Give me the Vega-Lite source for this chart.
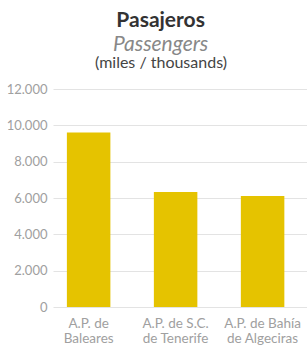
{
  "$schema": "https://vega.github.io/schema/vega-lite/v6.json",
  "padding": {"left": 6, "top": 10, "right": 0, "bottom": 0},
  "config": {"view": {"stroke": null}, "font": "Lato", "concat": {"spacing": 0}},
  "title": {
    "text": "Pasajeros",
    "subtitle": "Passengers",
    "anchor": "middle",
    "frame": "bounds",
    "dx": 4,
    "fontSize": 21,
    "fontWeight": "bold",
    "color": "#333333",
    "subtitleFontSize": 21,
    "subtitleFontStyle": "italic",
    "subtitleColor": "#888888",
    "subtitlePadding": 3,
    "offset": 0
  },
  "vconcat": [
    {
      "title": {"text": "(miles / thousands)", "fontSize": 16, "fontWeight": "normal", "color": "#444444", "anchor": "middle", "dx": -19, "offset": 12},
      "width": 254,
      "height": 218,
      "data": {
        "values": [
          {"puerto": "A.P. de|Baleares", "valor": 9610},
          {"puerto": "A.P. de S.C.|de Tenerife", "valor": 6330},
          {"puerto": "A.P. de Bahía|de Algeciras", "valor": 6110}
        ]
      },
      "mark": {"type": "bar", "color": "#E5C300"},
      "encoding": {
        "x": {
          "field": "puerto",
          "type": "nominal",
          "sort": null,
          "scale": {"paddingInner": 0.5, "paddingOuter": 0.21, "align": 0.38},
          "axis": {
            "title": null,
            "labelAngle": 0,
            "labelExpr": "split(datum.label, '|')",
            "labelColor": "#a0a0a0",
            "labelFontSize": 13.5,
            "labelPadding": 9,
            "labelLineHeight": 15,
            "ticks": false,
            "domain": false
          }
        },
        "y": {
          "field": "valor",
          "type": "quantitative",
          "scale": {"domain": [0, 12000]},
          "axis": {
            "title": null,
            "values": [0, 2000, 4000, 6000, 8000, 10000, 12000],
            "labelExpr": "replace(format(datum.value, ','), ',', '.')",
            "labelColor": "#a0a0a0",
            "labelFontSize": 13,
            "labelPadding": 6,
            "ticks": false,
            "domain": false,
            "gridColor": "#e3e3e3"
          }
        }
      }
    }
  ]
}
